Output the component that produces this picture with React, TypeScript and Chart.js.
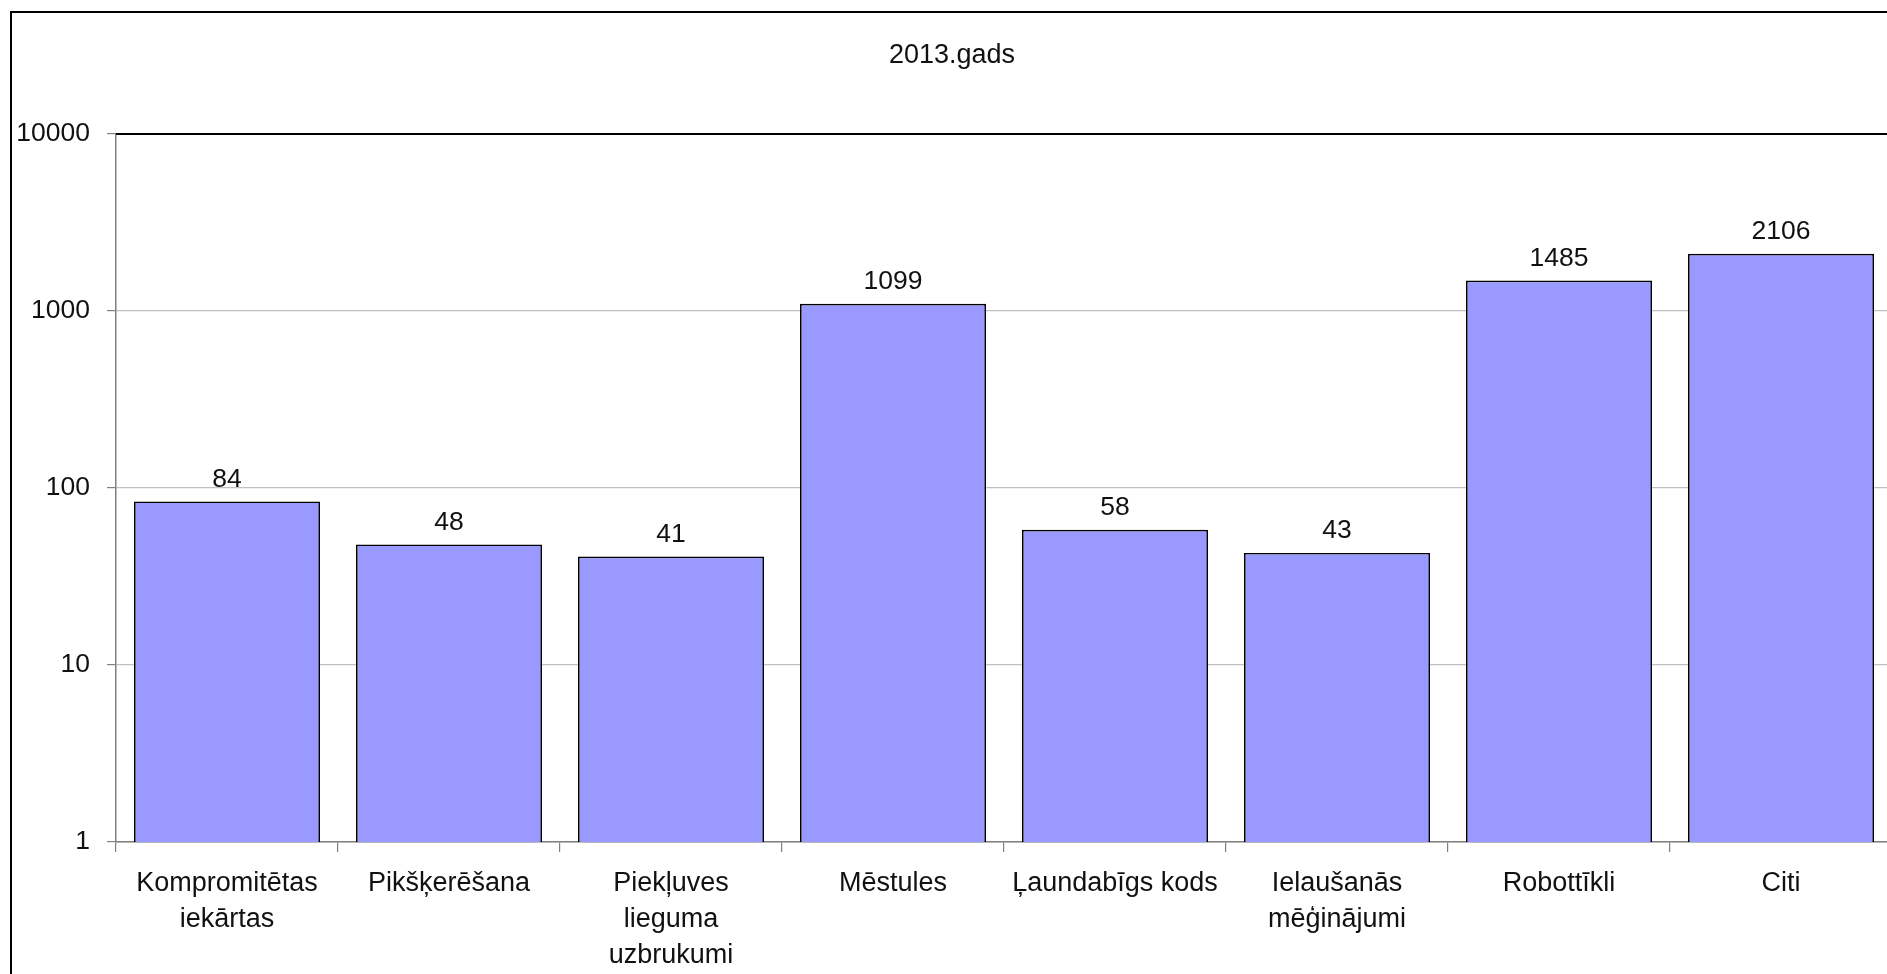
import React, { useEffect, useRef } from "react";
import { Chart, registerables } from "chart.js";

Chart.register(...registerables);

const chartTitle = "2013.gads";
const categories: (string | string[])[] = [
  ["Kompromitētas", "iekārtas"],
  "Pikšķerēšana",
  ["Piekļuves", "lieguma", "uzbrukumi"],
  "Mēstules",
  "Ļaundabīgs kods",
  ["Ielaušanās", "mēģinājumi"],
  "Robottīkli",
  "Citi",
];
const incidents = [84, 48, 41, 1099, 58, 43, 1485, 2106];
const yTickValues = [1, 10, 100, 1000, 10000];

const FONT = "'Liberation Sans', Arial, sans-serif";
const TEXT = "#111";

const plotTopBorder = {
  id: "plotTopBorder",
  afterDatasetsDraw(chart: any) {
    const { ctx, chartArea } = chart;
    ctx.save();
    ctx.strokeStyle = "#000";
    ctx.lineWidth = 2;
    ctx.beginPath();
    ctx.moveTo(chartArea.left, chartArea.top);
    ctx.lineTo(chartArea.right, chartArea.top);
    ctx.stroke();
    ctx.restore();
  },
};

const valueLabels = {
  id: "valueLabels",
  afterDatasetsDraw(chart: any) {
    const { ctx } = chart;
    chart.data.datasets.forEach((ds: any, di: number) => {
      const meta = chart.getDatasetMeta(di);
      meta.data.forEach((bar: any, i: number) => {
        ctx.save();
        ctx.font = `26.5px ${FONT}`;
        ctx.fillStyle = TEXT;
        ctx.textAlign = "center";
        ctx.textBaseline = "middle";
        ctx.fillText(String(ds.data[i]), bar.x, bar.y - 22);
        ctx.restore();
      });
    });
  },
};

export default function App() {
  const canvasRef = useRef<HTMLCanvasElement | null>(null);

  useEffect(() => {
    if (!canvasRef.current) return;
    Chart.defaults.font.family = FONT;
    const chart = new Chart(canvasRef.current, {
      type: "bar",
      data: {
        labels: categories,
        datasets: [
          {
            data: incidents,
            backgroundColor: "#9999ff",
            borderColor: "#000",
            borderWidth: 1.7,
            barPercentage: 0.838,
            categoryPercentage: 1,
          },
        ],
      },
      options: {
        animation: false,
        responsive: false,
        layout: { padding: { left: 0, right: 20, top: 0, bottom: 0 } },
        plugins: {
          legend: { display: false },
          tooltip: { enabled: false },
          title: {
            display: true,
            text: chartTitle,
            color: TEXT,
            font: { size: 27, weight: "normal", lineHeight: 1.2 },
            padding: { top: 26, bottom: 62.6 },
          },
        },
        scales: {
          x: {
            offset: true,
            grid: {
              offset: true,
              drawOnChartArea: false,
              drawTicks: true,
              tickLength: 10,
              tickColor: "#808080",
              lineWidth: 1.2,
            },
            border: { display: true, color: "#808080", width: 1.5 },
            ticks: {
              color: TEXT,
              font: { size: 27, lineHeight: 1.333 },
              padding: 14,
              maxRotation: 0,
              minRotation: 0,
              autoSkip: false,
            },
            afterFit: (s: any) => {
              s.height = 132;
            },
          },
          y: {
            type: "logarithmic",
            min: 1,
            max: 10000,
            afterBuildTicks: (s: any) => {
              s.ticks = yTickValues.map((v) => ({ value: v }));
            },
            grid: {
              color: "#c0c0c0",
              lineWidth: 1.2,
              tickLength: 9,
              tickColor: "#808080",
            },
            border: { display: true, color: "#808080", width: 1.5 },
            ticks: {
              color: TEXT,
              font: { size: 26.5 },
              padding: 17,
              callback: (v: any) => String(v),
            },
            afterFit: (s: any) => {
              s.width = 104;
            },
          },
        },
      } as any,
      plugins: [plotTopBorder, valueLabels],
    });
    return () => chart.destroy();
  }, []);

  return (
    <div
      style={{
        position: "fixed",
        left: 0,
        top: 0,
        width: "100vw",
        height: "100vh",
        overflow: "hidden",
        background: "#fff",
      }}
    >
      <div
        style={{
          position: "absolute",
          left: 10,
          top: 11,
          width: 1900,
          height: 961,
          border: "2px solid #000",
        }}
      >
        <canvas
          ref={canvasRef}
          width={1900}
          height={961}
          style={{ display: "block", width: 1900, height: 961 }}
        />
      </div>
    </div>
  );
}
